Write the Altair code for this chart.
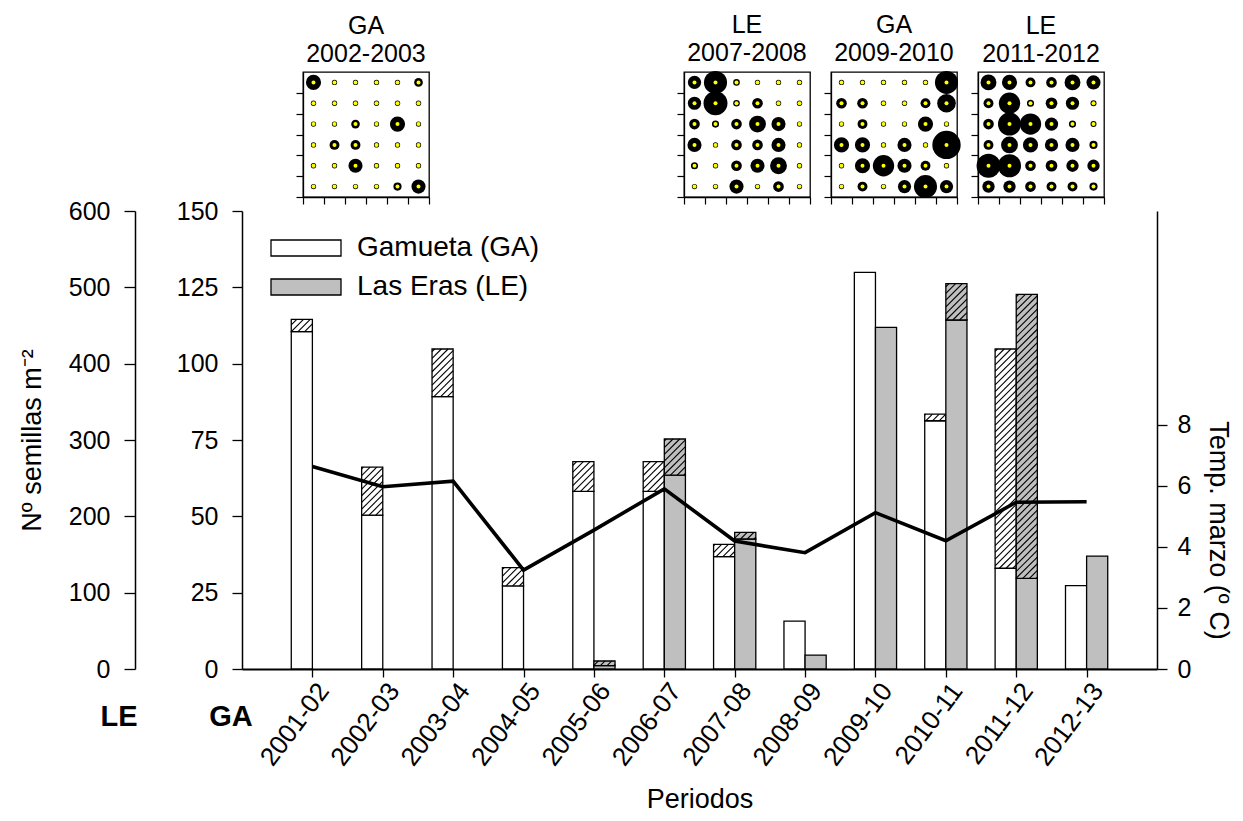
import math
import altair as alt
import pandas as pd

# ---------------- data ----------------
periods = ["2001-02", "2002-03", "2003-04", "2004-05", "2005-06", "2006-07",
           "2007-08", "2008-09", "2009-10", "2010-11", "2011-12", "2012-13"]
# Gamueta (GA), left inner axis (0-150)
ga_solid = [110.5, 50.4, 89.2, 27.2, 58.2, 58.2, 36.8, 15.7, 129.9, 81.3, 33.0, 27.3]
ga_hatched = [4.0, 15.7, 15.6, 6.0, 9.7, 9.7, 4.0, 0.0, 0.0, 2.2, 71.8, 0.0]
# Las Eras (LE), left outer axis (0-600); no data for the first four periods
le_solid = [None, None, None, None, 4.3, 254.1, 170.3, 18.3, 447.6, 457.2, 118.8, 148.0]
le_hatched = [None, None, None, None, 6.2, 47.2, 8.8, 0.0, 0.0, 47.6, 372.1, 0.0]
# March temperature, right axis
temp_march = [6.63, 5.97, 6.15, 3.24, 4.55, 5.90, 4.19, 3.81, 5.12, 4.20, 5.46, 5.48]

site_names = ["Gamueta (GA)", "Las Eras (LE)"]

# spatial grids (6x6, rows from top) for the inset panels
grid_ga_0203 = [[26, 0, 0, 0, 0, 6],
                [0, 0, 0, 0, 0, 0],
                [0, 0, 6, 0, 26, 0],
                [0, 9, 9, 0, 0, 0],
                [0, 0, 22, 0, 0, 0],
                [0, 0, 0, 0, 5, 22]]
grid_le_0708 = [[19, 65, 2, 0, 0, 0],
                [19, 70, 2, 11, 0, 0],
                [11, 3, 11, 33, 22, 0],
                [22, 0, 11, 11, 22, 0],
                [3, 0, 11, 22, 33, 0],
                [0, 0, 22, 0, 11, 0]]
grid_ga_0910 = [[0, 0, 0, 0, 0, 65],
                [11, 11, 0, 0, 9, 41],
                [0, 9, 0, 0, 26, 0],
                [26, 26, 0, 22, 0, 100],
                [0, 26, 55, 22, 9, 0],
                [0, 9, 0, 19, 65, 19]]
grid_le_1112 = [[29, 26, 9, 11, 29, 22],
                [9, 55, 3, 14, 19, 1],
                [11, 65, 55, 19, 3, 1],
                [9, 33, 26, 19, 22, 5],
                [70, 65, 11, 14, 16, 16],
                [16, 16, 11, 9, 9, 5]]
inset_titles = [["GA", "2002-2003"], ["LE", "2007-2008"], ["GA", "2009-2010"], ["LE", "2011-2012"]]
inset_grids = [grid_ga_0203, grid_le_0708, grid_ga_0910, grid_le_1112]

# ---------------- style / layout ----------------
FONT = "Liberation Sans"
W, H = 915, 458
BAR_W = 0.3
GREY = "#bfbfbf"
HATCH_STEP = 6.7

# ---------------- build tables ----------------
bar_rows = []
for i, p in enumerate(periods):
    s, h = ga_solid[i], ga_hatched[i]
    bar_rows.append(dict(i=i, site=site_names[0], lo=0.0, hi=s, part="solid"))
    if h:
        bar_rows.append(dict(i=i, site=site_names[0], lo=s, hi=s + h, part="hatch"))
ga_df = pd.DataFrame(bar_rows)

le_rows = []
for i, p in enumerate(periods):
    s, h = le_solid[i], le_hatched[i]
    if s is None:
        continue
    le_rows.append(dict(i=i, site=site_names[1], lo=0.0, hi=s, part="solid"))
    if h:
        le_rows.append(dict(i=i, site=site_names[1], lo=s, hi=s + h, part="hatch"))
le_df = pd.DataFrame(le_rows)

temp_df = pd.DataFrame(dict(i=list(range(len(periods))), t=temp_march))

XPX = W / 13.0


def hatch(df, side_shift, ymax):
    py = H / ymax
    out = []
    for _, r in df[df.part == "hatch"].iterrows():
        left = r.i + side_shift
        u0 = (left + 1) * XPX
        u1 = u0 + BAR_W * XPX
        v0, v1 = r.lo * py, r.hi * py
        c = math.ceil((v0 - u1) / HATCH_STEP) * HATCH_STEP
        while c <= v1 - u0:
            us = max(u0, v0 - c)
            ue = min(u1, v1 - c)
            if ue - us > 0.3:
                out.append(dict(x1=us / XPX - 1, x2=ue / XPX - 1,
                                y1=(us + c) / py, y2=(ue + c) / py))
            c += HATCH_STEP
    return pd.DataFrame(out)


ga_hatch_df = hatch(ga_df, -BAR_W, 150)
le_hatch_df = hatch(le_df, 0.0, 600)

# ---------------- scales / axes ----------------
x_scale = alt.Scale(domain=[-1, 12], nice=False, zero=False)
label_expr = "[" + ",".join("'%s'" % p for p in periods) + "][datum.value]"
x_axis = alt.Axis(values=list(range(len(periods))), labelExpr=label_expr, labelAngle=-53,
                  labelAlign="right", labelBaseline="middle", labelFontSize=26,
                  labelPadding=9, labelOffset=11, labelOverlap=False, labelBound=False,
                  tickSize=8, tickWidth=1.3, domainWidth=2.2, grid=False,
                  title="Periodos", titleFontSize=27, titleFontWeight="normal", titlePadding=16)
ga_scale = alt.Scale(domain=[0, 150], nice=False)
ga_axis = alt.Axis(orient="left", values=[0, 25, 50, 75, 100, 125, 150], tickSize=10,
                   tickWidth=1.3, domainWidth=1.5, labelFontSize=25, labelPadding=14,
                   grid=False, title=None)
le_scale = alt.Scale(domain=[0, 600], nice=False)
le_axis = alt.Axis(orient="left", values=[0, 100, 200, 300, 400, 500, 600], tickSize=11,
                   tickWidth=1.3, domainWidth=1.5, labelFontSize=25, labelPadding=14,
                   grid=False, offset=107,
                   title="Nº semillas m⁻²", titleFontSize=27, titleFontWeight="normal",
                   titlePadding=22)
t_scale = alt.Scale(domain=[0, 15], nice=False)
t_axis = alt.Axis(orient="right", values=[0, 2, 4, 6, 8], tickSize=10, tickWidth=1.3,
                  domainWidth=1.5, labelFontSize=25, labelPadding=10, grid=False,
                  title="Temp. marzo (º C)", titleFontSize=27, titleFontWeight="normal",
                  titleAngle=90, titleY=319, titlePadding=13)
fill_scale = alt.Scale(domain=site_names, range=["white", GREY])
legend = alt.Legend(title=None, orient="none", legendX=50, legendY=162,
                    symbolType="M-7,-1.6H7V1.6H-7Z", symbolSize=100,
                    symbolStrokeColor="black", symbolStrokeWidth=1.3, symbolOpacity=1,
                    labelFontSize=28, labelOffset=37, labelLimit=400, rowPadding=11,
                    padding=0)

ga_bars = alt.Chart(ga_df).transform_calculate(x0="datum.i - %s" % BAR_W).mark_rect(
    stroke="black", strokeWidth=1.3).encode(
    x=alt.X("x0:Q", scale=x_scale, axis=x_axis),
    x2="i:Q",
    y=alt.Y("lo:Q", scale=ga_scale, axis=ga_axis),
    y2="hi:Q",
    fill=alt.Fill("site:N", scale=fill_scale, legend=legend))
ga_lines = alt.Chart(ga_hatch_df).mark_rule(color="black", strokeWidth=1.1).encode(
    x=alt.X("x1:Q", scale=x_scale, axis=x_axis), x2="x2:Q",
    y=alt.Y("y1:Q", scale=ga_scale, axis=None), y2="y2:Q")

le_bars = alt.Chart(le_df).transform_calculate(x1="datum.i + %s" % BAR_W).mark_rect(
    stroke="black", strokeWidth=1.3).encode(
    x=alt.X("i:Q", scale=x_scale, axis=x_axis),
    x2="x1:Q",
    y=alt.Y("lo:Q", scale=le_scale, axis=le_axis),
    y2="hi:Q",
    fill=alt.Fill("site:N", scale=fill_scale, legend=legend))
le_lines = alt.Chart(le_hatch_df).mark_rule(color="black", strokeWidth=1.1).encode(
    x=alt.X("x1:Q", scale=x_scale, axis=x_axis), x2="x2:Q",
    y=alt.Y("y1:Q", scale=le_scale, axis=None), y2="y2:Q")

temp_line = alt.Chart(temp_df).mark_line(color="black", strokeWidth=3.6).encode(
    x=alt.X("i:Q", scale=x_scale, axis=x_axis),
    y=alt.Y("t:Q", scale=t_scale, axis=t_axis))

one = pd.DataFrame({"k": [0]})
txt_le = alt.Chart(one).mark_text(text="LE", fontSize=29, fontWeight="bold", font=FONT,
                                  align="center", baseline="middle").encode(
    x=alt.value(-123), y=alt.value(506))
txt_ga = alt.Chart(one).mark_text(text="GA", fontSize=29, fontWeight="bold", font=FONT,
                                  align="center", baseline="middle").encode(
    x=alt.value(-11), y=alt.value(506))

main = alt.layer(ga_bars, ga_lines, le_bars, le_lines, temp_line, txt_le, txt_ga).resolve_scale(
    y="independent").properties(width=W, height=H)

# ---------------- inset panels ----------------
grid_rows = []
for g, grid in enumerate(inset_grids):
    for r, row in enumerate(grid):
        for c, v in enumerate(row):
            grid_rows.append(dict(g=g, r=r, c=c, v=v))
grid_df = pd.DataFrame(grid_rows)


def inset(g):
    base = alt.Chart(grid_df).transform_filter("datum.g == %d" % g).transform_calculate(
        cx="datum.c + 0.5", cy="5.5 - datum.r")
    ax_x = alt.Axis(values=list(range(7)), labels=False, tickSize=7, tickWidth=1.2,
                    domainWidth=1.3, grid=False, title=None)
    ax_y = alt.Axis(values=list(range(6)), labels=False, tickSize=7, tickWidth=1.2,
                    domainWidth=1.3, grid=False, title=None)
    big = base.mark_circle(color="black", opacity=1).encode(
        x=alt.X("cx:Q", scale=alt.Scale(domain=[0, 6], nice=False), axis=ax_x),
        y=alt.Y("cy:Q", scale=alt.Scale(domain=[0, 6], nice=False), axis=ax_y),
        size=alt.Size("v:Q", scale=alt.Scale(domain=[0, 100], range=[28, 804]), legend=None))
    dot = base.mark_circle(color="#ffff00", opacity=1, size=16).encode(
        x=alt.X("cx:Q", axis=ax_x), y=alt.Y("cy:Q", axis=ax_y))
    return alt.layer(big, dot).properties(
        width=126, height=125,
        title=alt.Title(inset_titles[g], fontSize=25, fontWeight="normal", font=FONT,
                        offset=5, lineHeight=28),
        view=alt.ViewBackground(stroke="black", strokeWidth=1.3))


def spacer(w):
    return alt.Chart(one).mark_point(opacity=0).properties(width=w, height=125)


top = alt.hconcat(spacer(40), inset(0), spacer(213), inset(1), inset(2), inset(3),
                  spacing=21, bounds="flush")

chart = alt.vconcat(top, main, spacing=-7).properties(
    padding={"left": 18, "top": 12, "right": 5, "bottom": 5}
).configure(font=FONT).configure_view(stroke=None).configure_axis(
    labelFont=FONT, titleFont=FONT, labelColor="black", titleColor="black",
    domainColor="black", tickColor="black").configure_legend(labelFont=FONT, labelColor="black")

chart.save("out.html", embed_options={"renderer": "svg", "actions": False})
